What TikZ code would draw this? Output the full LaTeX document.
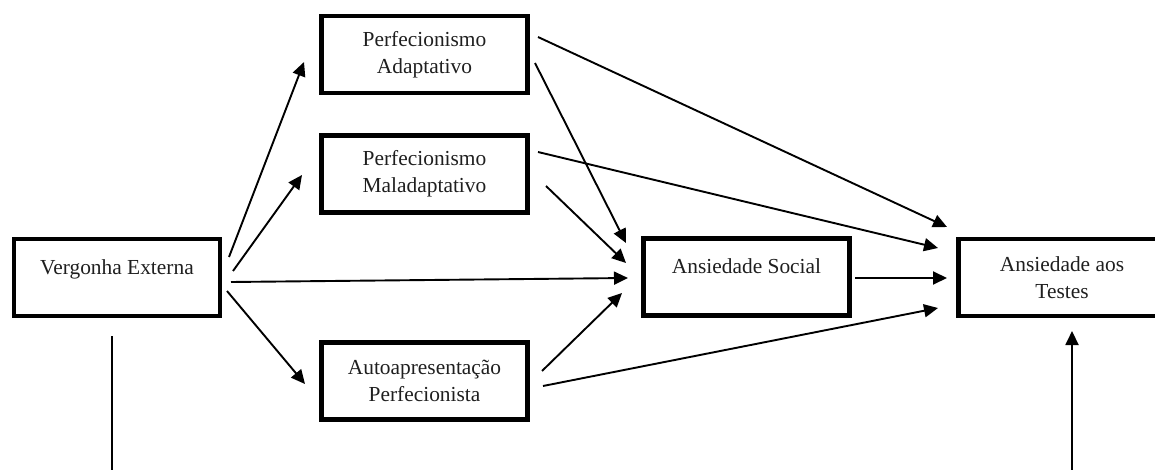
\documentclass[tikz,border=0pt]{standalone}
\usepackage{fontspec}
\setmainfont{Liberation Serif}
\usetikzlibrary{arrows.meta,calc}
\begin{document}
\begin{tikzpicture}[x=1pt,y=-1pt,
  box/.style={draw, line width=4.2pt, minimum width=206pt, minimum height=77pt, align=center, inner sep=0pt, font=\fontsize{21.4}{27}\selectfont, text=black!88},
  onebox/.style={box, text height=14pt, text depth=21pt},
  conn/.style={line width=1.9pt, -{Triangle[length=14pt,width=13pt]}},
  plainline/.style={line width=1.9pt}]
\useasboundingbox (0,0) rectangle (1155,470);
\clip (0,0) rectangle (1155,470);
\node[onebox] (V) at (117,277.5) {Vergonha Externa};
\node[box] (PA) at (424.5,54.5) {Perfecionismo\\Adaptativo};
\node[box] (PM) at (424.5,174) {Perfecionismo\\Maladaptativo};
\node[box] (AP) at (424.5,381) {Autoapresentação\\Perfecionista};
\node[onebox] (S) at (746.5,277) {Ansiedade Social};
\node[box, minimum width=207pt] (T) at (1062,277.5) {Ansiedade aos\\Testes};
\coordinate (lb) at (112,480);
\coordinate (rb) at (1072,480);
% from Vergonha
\draw[conn] ($(V)+(112,-20.5)$) -- ($(PA)+(-120.5,7.5)$);
\draw[conn] ($(V)+(116,-6.5)$) -- ($(PM)+(-122.5,1)$);
\draw[conn] ($(V)+(114,4.5)$) -- ($(S)+(-118.5,1)$);
\draw[conn] ($(V)+(110,13.5)$) -- ($(AP)+(-119.5,3)$);
\draw[plainline] ($(V)+(-5,58.5)$) -- (lb);
% from Perfecionismo Adaptativo
\draw[conn] ($(PA)+(110.5,8.5)$) -- ($(S)+(-120.5,-34)$);
\draw[conn] ($(PA)+(113.5,-17.5)$) -- ($(T)+(-115,-50.5)$);
% from Perfecionismo Maladaptativo
\draw[conn] ($(PM)+(121.5,12)$) -- ($(S)+(-120.5,-14)$);
\draw[conn] ($(PM)+(113.5,-22)$) -- ($(T)+(-124,-29.5)$);
% from Autoapresentacao
\draw[conn] ($(AP)+(117.5,-10)$) -- ($(S)+(-124.5,16)$);
\draw[conn] ($(AP)+(118.5,5)$) -- ($(T)+(-124,30.5)$);
% from Ansiedade Social
\draw[conn] ($(S)+(108.5,1)$) -- ($(T)+(-115,0.5)$);
% into Ansiedade aos Testes from below
\draw[conn] (rb) -- ($(T)+(10,53.5)$);
\end{tikzpicture}
\end{document}
